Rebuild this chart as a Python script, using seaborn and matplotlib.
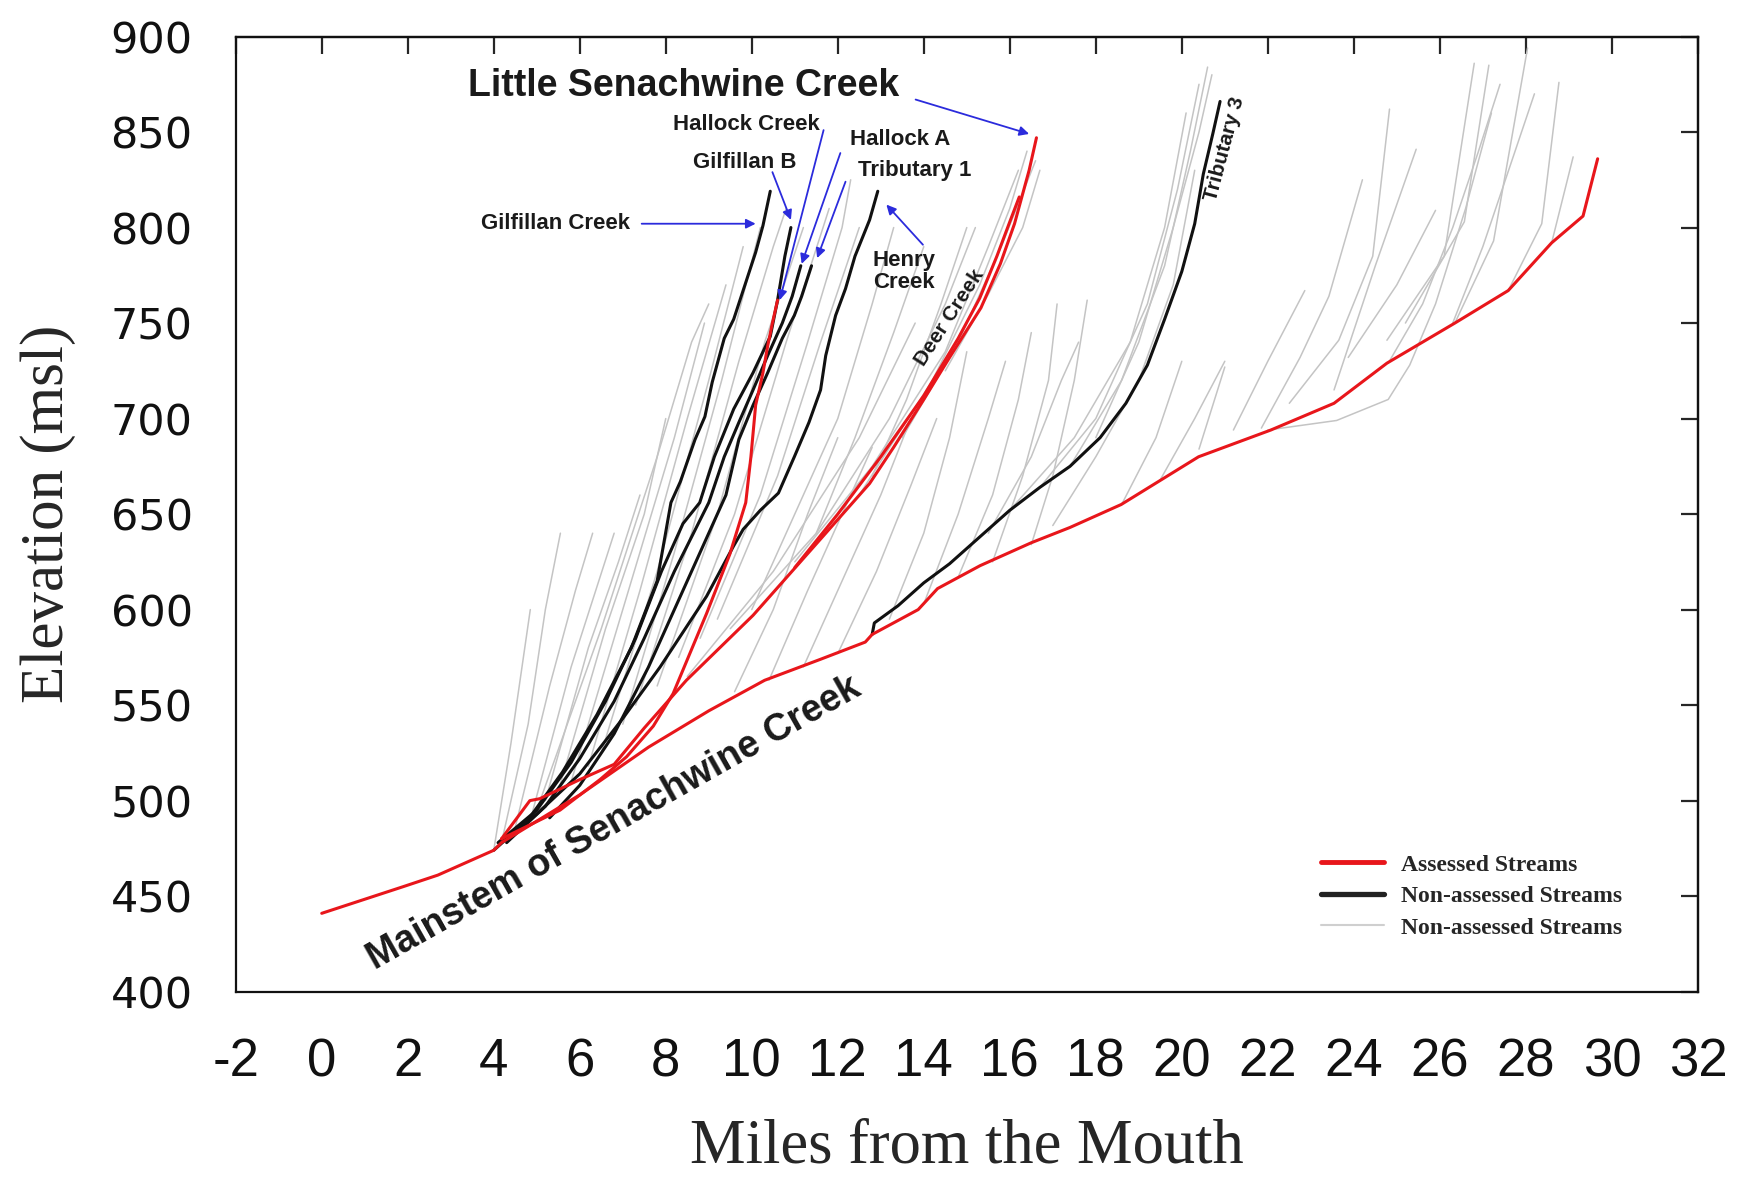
import matplotlib
matplotlib.use("Agg")
import matplotlib.pyplot as plt
import seaborn as sns
import pandas as pd
from matplotlib.lines import Line2D

# ---- assessed streams (red) ----
mainstem_x = [0.0, 1.9, 2.7, 4.0, 4.18, 6.0, 7.6, 9.0, 10.3, 11.6, 12.64, 12.8, 13.87, 14.32,
              15.31, 16.5, 17.4, 18.59, 20.39, 22.07, 23.54, 24.77, 26.35, 27.59, 28.6, 29.33, 29.67]
mainstem_y = [441, 455, 461, 474, 478, 503, 528, 547, 563, 574, 583, 587, 600, 611,
              623, 635, 643, 655, 680, 694, 708, 729, 750, 767, 792, 806, 836]

little_senachwine_x = [4.18, 4.84, 5.07, 6.0, 6.8, 7.5, 8.48, 10.03, 11.72, 12.74, 13.3, 14.0,
                       14.6, 15.33, 15.78, 16.11, 16.28, 16.45, 16.62]
little_senachwine_y = [480, 500, 501, 511, 519, 538, 563, 597, 640, 666, 685, 710,
                       732, 758, 781, 802, 816, 830, 847]

deer_creek_x = [11.0, 12.0, 13.0, 14.0, 14.8, 15.3, 15.7, 16.0, 16.22]
deer_creek_y = [622, 650, 680, 712, 742, 763, 785, 803, 816]

hallock_creek_x = [4.18, 5.54, 6.47, 7.09, 7.71, 8.17, 8.95, 9.49, 9.86, 9.98, 10.09, 10.26,
                   10.37, 10.48, 10.6]
hallock_creek_y = [480, 495, 511, 523, 539, 556, 598, 629, 656, 680, 707, 724, 738, 750, 762]

# ---- named non-assessed streams (black) ----
gilfillan_creek_x = [4.0, 4.8, 5.6, 6.4, 7.2, 7.8, 8.12, 8.34, 8.68, 8.91, 9.08, 9.36, 9.58,
                     10.09, 10.26, 10.43]
gilfillan_creek_y = [474, 490, 515, 545, 580, 615, 656, 667, 689, 701, 719, 742, 752, 787, 801, 819]

gilfillan_b_x = [4.1, 5.0, 5.8, 6.6, 7.3, 7.9, 8.4, 8.79, 9.13, 9.58, 10.03, 10.43, 10.6, 10.77, 10.91]
gilfillan_b_y = [478, 495, 520, 552, 585, 620, 645, 656, 680, 705, 724, 743, 762, 785, 800]

hallock_a_x = [4.3, 5.2, 6.0, 6.8, 7.5, 8.2, 9.0, 9.36, 9.7, 10.03, 10.37, 10.71, 10.94, 11.14]
hallock_a_y = [478, 497, 522, 552, 585, 620, 656, 680, 698, 715, 733, 750, 764, 780]

tributary_1_x = [5.3, 6.0, 6.8, 7.6, 8.3, 9.0, 9.4, 9.7, 10.03, 10.37, 10.71, 10.99, 11.16, 11.39]
tributary_1_y = [491, 508, 535, 570, 605, 640, 660, 689, 707, 724, 742, 754, 764, 780]

henry_creek_x = [4.3, 5.0, 6.0, 7.0, 7.87, 8.95, 9.57, 9.8, 10.2, 10.62, 10.99, 11.33, 11.6,
                 11.72, 11.95, 12.18, 12.4, 12.74, 12.93]
henry_creek_y = [480, 493, 514, 543, 570, 607, 633, 642, 652, 661, 680, 698, 715,
                 733, 754, 768, 785, 804, 819]

tributary_3_x = [12.8, 12.85, 13.4, 14.0, 14.6, 15.3, 16.0, 16.7, 17.4, 18.1, 18.7, 19.2, 19.6,
                 20.0, 20.3, 20.5, 20.72, 20.89]
tributary_3_y = [587, 593, 602, 614, 624, 638, 652, 664, 675, 690, 708, 728, 752,
                 777, 802, 828, 849, 866]

# ---- other non-assessed streams (grey) ----
gray_streams = [
    ([4.0, 4.4, 4.85], [474, 530, 600]),
    ([4.2, 4.8, 5.2, 5.55], [480, 540, 600, 640]),
    ([4.5, 5.3, 5.9, 6.3], [486, 560, 610, 640]),
    ([4.9, 5.8, 6.4, 6.8], [494, 570, 612, 640]),
    ([5.2, 6.2, 6.9, 7.4], [500, 580, 625, 660]),
    ([5.5, 6.6, 7.5, 8.0], [505, 590, 650, 700]),
    ([5.8, 7.0, 8.2, 8.9], [510, 600, 690, 750]),
    ([6.2, 7.4, 8.5, 9.4], [518, 610, 700, 770]),
    ([6.5, 7.8, 9.0, 9.8], [525, 620, 720, 790]),
    ([7.0, 8.2, 9.3, 10.2], [540, 630, 720, 800]),
    ([7.3, 8.6, 9.7, 10.5, 10.8], [550, 640, 730, 790, 810]),
    ([7.8, 9.2, 10.3, 11.2], [560, 650, 740, 800]),
    ([8.3, 9.6, 10.8, 11.8], [575, 650, 740, 810]),
    ([8.8, 10.2, 11.3, 12.1, 12.3], [585, 660, 740, 800, 825]),
    ([9.2, 10.6, 11.6, 12.5], [595, 670, 740, 800]),
    ([5.0, 6.5, 7.8, 8.6, 9.0], [495, 590, 680, 740, 760]),
    ([10.0, 11.0, 12.0, 12.8, 13.3], [600, 650, 700, 760, 800]),
    ([11.5, 12.4, 13.3, 14.0], [640, 690, 745, 790]),
    ([12.8, 13.6, 14.4, 15.0], [670, 710, 760, 800]),
    ([8.5, 10.5, 12.5, 13.8], [565, 620, 690, 750]),
    ([9.5, 11.5, 13.2, 14.5, 15.2], [590, 640, 700, 760, 800]),
    ([11.0, 12.8, 14.5, 15.5, 16.2], [625, 675, 735, 790, 830]),
    ([12.5, 14.2, 15.3, 16.0, 16.4], [660, 720, 770, 810, 840]),
    ([13.5, 14.8, 15.8, 16.6], [690, 740, 790, 835]),
    ([14.5, 15.5, 16.3, 16.7], [725, 765, 800, 830]),
    ([9.6, 10.5, 11.3, 12.0], [557, 600, 650, 690]),
    ([10.4, 11.3, 12.1, 12.8], [563, 610, 650, 685]),
    ([11.2, 12.2, 13.0, 13.7], [570, 620, 660, 700]),
    ([12.0, 12.9, 13.7, 14.3], [577, 620, 665, 700]),
    ([13.2, 14.0, 14.6, 15.0], [595, 640, 690, 735]),
    ([14.0, 14.8, 15.5, 15.9], [603, 650, 700, 730]),
    ([14.8, 15.6, 16.2, 16.5], [617, 660, 710, 745]),
    ([15.6, 16.3, 16.9, 17.1], [625, 670, 720, 760]),
    ([16.5, 17.0, 17.5, 17.8], [634, 670, 720, 762]),
    ([16.0, 17.5, 18.8, 19.6, 20.1], [652, 690, 740, 800, 860]),
    ([16.7, 18.0, 19.2, 19.9, 20.4], [664, 700, 760, 820, 875]),
    ([17.4, 18.6, 19.6, 20.2, 20.6], [675, 720, 780, 840, 884]),
    ([17.0, 18.0, 19.0, 19.8, 20.3], [644, 680, 720, 770, 830]),
    ([18.6, 19.4, 20.0], [655, 690, 730]),
    ([19.5, 20.3, 21.0], [668, 700, 730]),
    ([15.5, 16.5, 17.2, 17.6], [640, 680, 720, 740]),
    ([18.0, 19.0, 19.8, 20.4, 20.7], [690, 740, 800, 850, 880]),
    ([20.4, 21.0], [684, 727]),
    ([21.2, 22.0, 22.86], [694, 730, 767]),
    ([21.85, 22.75, 23.42, 24.2], [695, 732, 764, 825]),
    ([22.5, 23.65, 24.44, 24.83], [708, 741, 785, 862]),
    ([23.54, 24.5, 25.45], [715, 780, 841]),
    ([23.87, 25.0, 25.9], [732, 770, 809]),
    ([24.77, 26.1, 26.8], [741, 785, 886]),
    ([25.2, 26.57, 27.14], [750, 803, 885]),
    ([26.35, 27.25, 28.04], [750, 793, 894]),
    ([27.59, 28.37, 28.77], [767, 802, 876]),
    ([28.6, 29.1], [792, 837]),
    ([22.0, 23.6, 24.8, 25.3, 25.9, 26.6, 27.2], [694, 699, 710, 728, 760, 810, 860]),
    ([24.8, 25.6, 26.3, 26.9, 27.4], [729, 760, 800, 840, 875]),
    ([26.3, 27.0, 27.6, 28.2], [750, 790, 830, 870]),
]

x_ticks = list(range(-2, 33, 2))
y_ticks = list(range(400, 901, 50))

RED = "#e8161b"
BLACK = "#111111"
GREY = "#c4c4c4"
BLUE = "#2b2bdc"


def to_frame(streams):
    rows = []
    for i, (xs, ys) in enumerate(streams):
        for x, y in zip(xs, ys):
            rows.append({"stream": i, "mile": x, "elev": y})
    return pd.DataFrame(rows)


red_df = to_frame([
    (mainstem_x, mainstem_y),
    (little_senachwine_x, little_senachwine_y),
    (deer_creek_x, deer_creek_y),
    (hallock_creek_x, hallock_creek_y),
])
black_df = to_frame([
    (gilfillan_creek_x, gilfillan_creek_y),
    (gilfillan_b_x, gilfillan_b_y),
    (hallock_a_x, hallock_a_y),
    (tributary_1_x, tributary_1_y),
    (henry_creek_x, henry_creek_y),
    (tributary_3_x, tributary_3_y),
])
grey_df = to_frame(gray_streams)

sns.set_theme(style="white")
plt.rcParams["font.family"] = ["Liberation Sans", "DejaVu Sans"]

fig = plt.figure(figsize=(17.5, 11.78), dpi=100)
ax = fig.add_axes([0.1347, 0.1582, 0.8355, 0.8108])

common = dict(x="mile", y="elev", units="stream", estimator=None, sort=False, legend=False, ax=ax)
sns.lineplot(data=grey_df, color=GREY, linewidth=1.1, **common)
sns.lineplot(data=black_df, color=BLACK, linewidth=2.2, **common)
sns.lineplot(data=red_df, color=RED, linewidth=2.2, **common)

ax.set_xlim(-2, 32)
ax.set_ylim(400, 900)

ax.set_xticks(x_ticks, labels=[str(v) for v in x_ticks], fontsize=38,
              fontfamily=["Liberation Sans Narrow", "Liberation Sans"])
ax.set_yticks(y_ticks, labels=[str(v) for v in y_ticks], fontsize=31,
              fontfamily=["DejaVu Sans"])
ax.tick_params(axis="x", direction="out", length=11, width=1.6, pad=22, colors=BLACK)
ax.tick_params(axis="y", direction="out", length=11, width=1.6, pad=20, colors=BLACK)

top = ax.secondary_xaxis("top")
top.set_xticks(x_ticks)
top.tick_params(direction="in", length=12, width=1.6, labeltop=False)
right = ax.secondary_yaxis("right")
right.set_yticks(y_ticks)
right.tick_params(direction="in", length=12, width=1.6, labelright=False)

for sp in ax.spines.values():
    sp.set_visible(True)
    sp.set_color(BLACK)
    sp.set_linewidth(1.6)
for s in (top, right):
    for sp in s.spines.values():
        sp.set_color(BLACK)
        sp.set_linewidth(1.6)

ax.set_xlabel("Miles from the Mouth", fontsize=45, fontfamily="Liberation Serif")
ax.set_ylabel("Elevation (msl)", fontsize=44, fontfamily="Liberation Serif")
ax.xaxis.set_label_coords(0.5, -0.133)
ax.yaxis.set_label_coords(-0.109, 0.5)

# stream names
lbl = dict(fontweight="bold", color="#1a1a1a", ha="center", va="center")
ax.text(8.42, 874, "Little Senachwine Creek", fontsize=27, **lbl)
ax.text(9.87, 854, "Hallock Creek", fontsize=16, **lbl)
ax.text(13.45, 846, "Hallock A", fontsize=16, **lbl)
ax.text(9.84, 834, "Gilfillan B", fontsize=16, **lbl)
ax.text(13.8, 830, "Tributary 1", fontsize=16, **lbl)
ax.text(5.44, 802, "Gilfillan Creek", fontsize=16, **lbl)
ax.text(13.55, 777, "Henry\nCreek", fontsize=16, linespacing=1.1, **lbl)
ax.text(14.6, 753, "Deer Creek", fontsize=15, rotation=57, rotation_mode="anchor", **lbl)
ax.text(21.0, 841, "Tributary 3", fontsize=15, rotation=75, rotation_mode="anchor", **lbl)
ax.text(6.8, 488, "Mainstem of Senachwine Creek", fontsize=27, rotation=29.5,
        rotation_mode="anchor", **lbl)

arrow = dict(arrowstyle="-|>", color=BLUE, lw=1.3, mutation_scale=14, shrinkA=0, shrinkB=0)
for start, end in [((13.81, 867), (16.45, 849)),
                   ((7.44, 802), (10.09, 802)),
                   ((10.48, 829), (10.91, 804)),
                   ((11.67, 851), (10.65, 762)),
                   ((12.06, 839), (11.16, 781)),
                   ((12.18, 824), (11.52, 784)),
                   ((13.98, 791), (13.13, 812))]:
    ax.annotate("", xy=end, xytext=start, arrowprops=arrow)

handles = [Line2D([], [], color=RED, lw=3.5),
           Line2D([], [], color="#222222", lw=3.8),
           Line2D([], [], color="#cfcfcf", lw=1.5)]
labels = ["Assessed Streams", "Non-assessed Streams", "Non-assessed Streams"]
ax.legend(handles, labels, loc="upper left", bbox_to_anchor=(0.742, 0.144), frameon=False,
          borderpad=0, borderaxespad=0, handlelength=2.7, handletextpad=0.7, labelspacing=0.42,
          prop={"family": "Liberation Serif", "weight": "bold", "size": 17})

fig.savefig("out.png", dpi=100)
